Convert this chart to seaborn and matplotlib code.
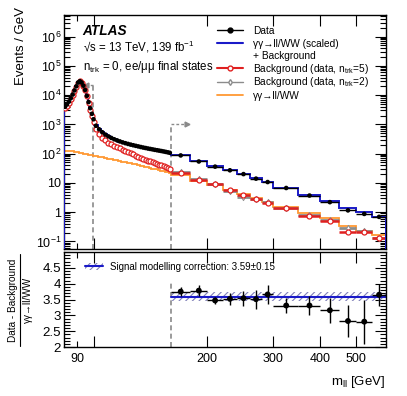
import numpy as np
import pandas as pd
import matplotlib
matplotlib.use("Agg")
import matplotlib.pyplot as plt
import seaborn as sns
from matplotlib.ticker import FixedLocator, FuncFormatter, MultipleLocator, LogLocator, NullFormatter
from matplotlib.lines import Line2D
from matplotlib.patches import Patch

# bin edges in m_ll [GeV]
edges = [83, 84, 85, 86, 87, 88, 89, 90, 91, 92, 93, 94, 95, 96, 97, 98, 99, 100,
         102, 104, 106, 108, 110, 112, 114, 116, 118, 120, 122, 124, 126, 128, 130,
         132, 134, 136, 138, 140, 142, 144, 146, 148, 150, 152, 154, 156, 158, 160,
         180, 200, 220, 240, 260, 280, 300, 350, 400, 450, 500, 550, 600]

# events / GeV
data_vals = [4000, 4800, 6000, 7800, 10500, 14500, 20000, 27000, 30000, 27000, 21000, 15000,
             9500, 5800, 3600, 2300, 1500,
             900, 680, 540, 450, 390, 345, 310, 285, 262, 243, 228, 215, 204, 194, 185,
             177, 169, 162, 156, 150, 145, 140, 135, 131, 127, 123, 119, 115, 111, 107,
             87, 54, 36, 27, 20, 14, 10.7, 6.7, 3.7, 2.2, 1.15, 0.87, 0.69]
model_vals = [4100, 4900, 6100, 7900, 10600, 14600, 20100, 27000, 30000, 27000, 21000, 15000,
              9500, 5800, 3600, 2250, 1480,
              920, 700, 560, 470, 400, 350, 315, 288, 260, 241, 226, 213, 202, 192, 183,
              175, 167, 160, 154, 148, 143, 138, 134, 130, 126, 122, 118, 114, 110, 106,
              92, 54, 37, 27.5, 20, 14.5, 10.6, 6.9, 3.9, 2.4, 1.35, 1.05, 0.7]
bkg5_vals = [3600, 4400, 5600, 7400, 10000, 14000, 19500, 26500, 29500, 26500, 20500, 14500,
             9000, 5400, 3200, 1900, 1200,
             700, 460, 350, 285, 240, 210, 188, 170, 152, 138, 125, 113, 103, 94, 86,
             79, 73, 67, 62, 58, 54, 51, 48, 45, 42, 40, 37, 35, 33, 31,
             22, 13, 9.1, 5.7, 4.0, 2.8, 2.1, 1.35, 0.76, 0.48, 0.21, 0.21, 0.126]
sig_vals = [128, 127, 125, 122, 119, 116, 113, 110, 107, 104, 101, 98, 96, 93, 91, 88, 86,
            83, 79, 75, 71, 68, 65, 62, 59, 56, 53, 51, 49, 47, 45, 43,
            41, 39, 37, 36, 34, 33, 31, 30, 29, 28, 26, 25, 24, 23, 22,
            18, 12, 8.7, 5.9, 4.2, 3.0, 2.3, 1.5, 0.94, 0.62, 0.33, 0.23, 0.16]
# n_trk = 2 background, only shown above 160 GeV
bkg2_vals = [23, 13.5, 9.5, 5.5, 3.3, 2.9, 2.2, 1.4, 0.8, 0.55, 0.29, 0.22, 0.13]

# (data - background) / signal above 160 GeV
ratio_vals = [3.75, 3.78, 3.47, 3.52, 3.54, 3.51, 3.66, 3.31, 3.31, 3.16, 2.82, 2.80, 3.65]
ratio_errs = [0.13, 0.17, 0.10, 0.20, 0.23, 0.30, 0.30, 0.25, 0.30, 0.40, 0.50, 0.70, 0.35]
corr_value = 3.59
corr_err = 0.15

cut_low = 99
cut_high = 160

ratio_ticks = [2, 2.5, 3, 3.5, 4, 4.5]
ratio_ticklabels = ['2', '2.5', '3', '3.5', '4', '4.5']

legend_labels = ['Data', 'γγ→ll/WW (scaled)', '+ Background',
                 r'Background (data, n$_{\mathrm{trk}}$=5)', r'Background (data, n$_{\mathrm{trk}}$=2)',
                 'γγ→ll/WW']

sns.set_style("ticks", {'axes.edgecolor': 'black', 'xtick.color': 'black', 'ytick.color': 'black',
                        'text.color': 'black', 'axes.labelcolor': 'black'})
plt.rcParams['font.family'] = ['Liberation Sans', 'DejaVu Sans']
plt.rcParams['mathtext.fontset'] = 'custom'
plt.rcParams['mathtext.rm'] = 'Liberation Sans'
plt.rcParams['mathtext.it'] = 'Liberation Sans:italic'
plt.rcParams['mathtext.bf'] = 'Liberation Sans:bold'
plt.rcParams['hatch.linewidth'] = 0.8
plt.rcParams['axes.linewidth'] = 1.0

blue = '#1a1ac8'
red = '#e02020'
orange = '#ff9933'
grey = '#8c8c8c'
dash_col = '#8a8a8a'

W, H = 407, 396

edges = np.array(edges, dtype=float)
centers = 0.5 * (edges[1:] + edges[:-1])
half = 0.5 * np.diff(edges)
coarse = edges[:-1] >= cut_high

df = pd.DataFrame({'mll': centers, 'data': data_vals, 'bkg5': bkg5_vals})
df_hi = df[coarse].copy()
df_hi['bkg2'] = bkg2_vals
df_hi['ratio'] = ratio_vals
df_hi['rerr'] = ratio_errs
df_hi['half'] = half[coarse]

fig = plt.figure(figsize=(W / 100, H / 100), dpi=100)
ax = fig.add_axes([64/W, 1-249/H, 322/W, 234/H])
ax2 = fig.add_axes([64/W, 1-347/H, 322/W, 95/H], sharex=ax)

ymin, ymax = 0.055, 5.5e6

# histograms
ax.stairs(sig_vals, edges, baseline=1e-3, color=orange, lw=1.3, zorder=2)
ax.errorbar(df_hi['mll'], df_hi['bkg2'], xerr=df_hi['half'], fmt='none', ecolor=grey, lw=2, zorder=3)
sns.scatterplot(data=df_hi, x='mll', y='bkg2', ax=ax, marker='d', s=10, facecolor='white',
                edgecolor=grey, linewidth=0.7, zorder=4)
ax.errorbar(df_hi['mll'], df_hi['bkg5'], xerr=df_hi['half'], fmt='none', ecolor=red, lw=1.8, zorder=4)
ax.stairs(model_vals, edges, baseline=1e-3, color=blue, lw=1.4, zorder=5)
sns.scatterplot(data=df, x='mll', y='bkg5', ax=ax, marker='o', s=13, facecolor='white',
                edgecolor=red, linewidth=0.9, zorder=6)
ax.errorbar(df['mll'], df['data'], xerr=half, fmt='none', ecolor='black', lw=1.0, zorder=7)
sns.scatterplot(data=df, x='mll', y='data', ax=ax, marker='o', s=11, color='black',
                edgecolor='none', zorder=8)

# selection cuts
ax.plot([cut_low, cut_low], [ymin, 2.2e4], ls='--', dashes=(3, 2), color=dash_col, lw=1.2, zorder=1)
ax.plot([cut_low, 95.2], [2.2e4, 2.2e4], ls='--', dashes=(2, 1.5), color=dash_col, lw=1.0, zorder=1)
ax.plot([95.2], [2.2e4], marker='<', ms=3.5, color=dash_col, zorder=1)
ax.plot([cut_high, cut_high], [ymin, 1.0e3], ls='--', dashes=(3, 2), color=dash_col, lw=1.2, zorder=1)
ax.plot([cut_high, 177], [1.0e3, 1.0e3], ls='--', dashes=(2, 1.5), color=dash_col, lw=1.0, zorder=1)
ax.plot([177], [1.0e3], marker='>', ms=3.5, color=dash_col, zorder=1)

ax.set_xscale('log')
ax.set_yscale('log')
ax.set_xlim(83, 600)
ax.set_ylim(ymin, ymax)
ax.set_xlabel('')
ax.set_ylabel('')


def log_fmt(v, pos):
    e = int(round(np.log10(v)))
    if e == 0:
        return '1'
    if e == 1:
        return '10'
    return r'$10^{%d}$' % e


ax.yaxis.set_major_locator(LogLocator(base=10, numticks=20))
ax.yaxis.set_minor_locator(LogLocator(base=10, subs=np.arange(2, 10), numticks=20))
ax.yaxis.set_major_formatter(FuncFormatter(log_fmt))
ax.yaxis.set_minor_formatter(NullFormatter())

for a in (ax, ax2):
    a.xaxis.set_major_locator(FixedLocator([100, 200, 300, 400, 500]))
    a.xaxis.set_minor_locator(FixedLocator([90]))
    a.tick_params(which='both', direction='in', top=True, right=True, width=0.8)
    a.tick_params(which='major', length=8)
    a.tick_params(which='minor', length=4.5)
ax.tick_params(axis='x', which='both', labelbottom=False)
ax.tick_params(axis='y', labelsize=9, pad=2)

ax2.xaxis.set_major_formatter(FuncFormatter(lambda v, p: '' if v < 150 else '%d' % v))
ax2.xaxis.set_minor_formatter(FuncFormatter(lambda v, p: '%d' % v))
ax2.tick_params(axis='x', which='both', labelsize=9, pad=4)

# ratio panel
ax2.fill_between([cut_high, 600], corr_value - corr_err, corr_value + corr_err, facecolor='none',
                 edgecolor='#8080b8', hatch='/////', lw=0, zorder=1)
ax2.plot([cut_high, 600], [corr_value, corr_value], color=blue, lw=1.5, zorder=2)
ax2.plot([cut_high, cut_high], [2, 4.1], ls='--', dashes=(3, 2), color=dash_col, lw=1.2, zorder=1)
ax2.errorbar(df_hi['mll'], df_hi['ratio'], xerr=df_hi['half'], yerr=df_hi['rerr'], fmt='none',
             ecolor='black', lw=1.0, zorder=3)
sns.scatterplot(data=df_hi, x='mll', y='ratio', ax=ax2, marker='o', s=18, color='black',
                edgecolor='none', zorder=4)
ax2.set_ylim(2, 5)
ax2.set_xlim(83, 600)
ax2.set_xlabel('')
ax2.set_ylabel('')
ax2.set_yticks(ratio_ticks)
ax2.set_yticklabels(ratio_ticklabels)
ax2.yaxis.set_minor_locator(MultipleLocator(0.1))
ax2.tick_params(axis='y', labelsize=9.6, pad=2)

# texts
ax.text(0.056, 0.932, 'ATLAS', transform=ax.transAxes, fontsize=9.8, fontweight='bold',
        fontstyle='italic', va='center', ha='left')
ax.text(0.058, 0.862, '√s = 13 TeV, 139 fb$^{-1}$', transform=ax.transAxes, fontsize=8.3,
        va='center', ha='left')
ax.text(0.058, 0.776, r'n$_{\mathrm{trk}}$ = 0, ee/μμ final states', transform=ax.transAxes,
        fontsize=8.3, va='center', ha='left')

# legend, drawn row by row so the spacing stays even
row_y = [30, 43, 55.5, 68, 81.5, 95]
h_x0, h_x1, t_x = 217, 243, 253
styles = [
    dict(color='black', marker='o', ms=3.5, lw=1.0),
    dict(color=blue, lw=1.5),
    None,
    dict(color=red, marker='o', ms=3.5, mfc='white', mec=red, lw=1.5),
    dict(color=grey, marker='d', ms=3, mfc='white', mec=grey, lw=1.0),
    dict(color=orange, lw=1.3),
]
for yy, st, lab in zip(row_y, styles, legend_labels):
    fy = 1 - yy / H
    if st is not None:
        fig.add_artist(Line2D([h_x0 / W, h_x1 / W], [fy, fy], transform=fig.transFigure,
                              color=st['color'], lw=st['lw']))
        if 'marker' in st:
            fig.add_artist(Line2D([(h_x0 + h_x1) / 2 / W], [fy], transform=fig.transFigure, ls='none',
                                  marker=st['marker'], ms=st['ms'], color=st['color'],
                                  mfc=st.get('mfc', st['color']), mec=st.get('mec', st['color'])))
    fig.text(t_x / W, 1 - (yy + 3.6) / H, lab, fontsize=7.3, ha='left', va='baseline')

band_handle = (Patch(facecolor='none', edgecolor='#8080b8', hatch='/////', lw=0),
               Line2D([], [], color=blue, lw=1.5))
ax2.legend([band_handle], ['Signal modelling correction: 3.59±0.15'], loc='upper left',
           bbox_to_anchor=(0.065, 0.90), frameon=False, fontsize=7.0, handlelength=1.9,
           handletextpad=0.7, borderpad=0, borderaxespad=0)

fig.text(21/W, 1-7/H, 'Events / GeV', rotation=90, ha='center', va='top', fontsize=9.5)

# ratio y title as a fraction: numerator, bar, denominator
fig.text(13/W, 1-300/H, 'Data - Background', rotation=90, ha='center', va='center', fontsize=7.2)
fig.add_artist(Line2D([20/W, 20/W], [1-346/H, 1-254/H], transform=fig.transFigure, color='black', lw=0.8))
fig.text(27.5/W, 1-300/H, 'γγ→ll/WW', rotation=90, ha='center', va='center', fontsize=7.2)

fig.text(385/W, 1-374/H, r'm$_{\mathrm{ll}}$ [GeV]', ha='right', va='top', fontsize=9.5)

fig.savefig('out.png', dpi=100)
